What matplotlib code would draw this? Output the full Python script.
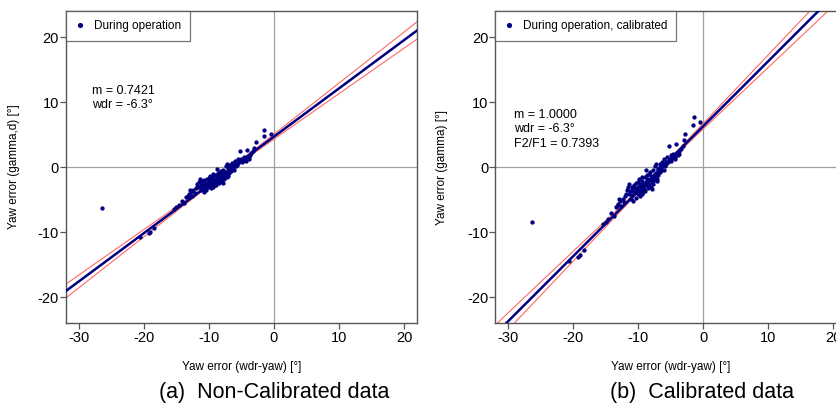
import matplotlib
matplotlib.use("Agg")
import matplotlib.pyplot as plt
import numpy as np

plt.rcParams['font.family'] = ['Liberation Sans', 'DejaVu Sans']
plt.rcParams['axes.unicode_minus'] = False

# ---- data ----
yaw_err_wdr = [
    -26.4, -20.6, -19.0, -18.4, -19.3, -15.4, -15.0, -14.6, -14.2, -13.8,
    -13.5, -13.1, -12.8, -12.6, -12.4, -12.2, -12.0, -11.8, -11.6, -11.5,
    -11.3, -11.2, -11.0, -10.9, -10.8, -10.6, -10.5, -10.4, -10.3, -10.2,
    -10.1, -10.0, -9.9, -9.8, -9.7, -9.6, -9.5, -9.4, -9.3, -9.2,
    -9.1, -9.0, -8.9, -8.8, -8.7, -8.6, -8.5, -8.4, -8.3, -8.2,
    -8.1, -8.0, -7.9, -7.8, -7.7, -7.6, -7.5, -7.4, -7.3, -7.2,
    -7.1, -7.0, -6.9, -6.8, -6.7, -6.6, -6.5, -6.4, -6.3, -6.2,
    -6.0, -5.9, -5.8, -5.6, -5.5, -5.3, -5.2, -5.0, -4.8, -4.6,
    -4.4, -4.2, -4.1, -3.9, -3.7, -3.5, -3.2, -3.0, -2.8, -1.6,
    -1.5, -0.5,
    -10.7, -10.4, -9.9, -9.6, -9.3, -9.0, -8.7, -8.4, -8.1, -7.8,
    -7.5, -7.2, -6.9, -6.6, -11.9, -11.4, -10.9, -8.8, -7.3, -9.7,
    -8.6, -7.9, -6.1, -5.7, -4.9, -4.3, -3.8, -12.9, -13.3, -10.0,
    -9.4, -8.3,
]
gamma_d = [
    -6.3, -10.7, -10.0, -9.4, -10.2, -6.4, -6.2, -5.9, -5.2, -5.6,
    -4.6, -4.2, -3.9, -4.4, -3.6, -4.0, -3.3, -2.6, -2.3, -3.1,
    -2.7, -3.6, -2.2, -3.2, -3.9, -2.9, -2.4, -3.5, -1.8, -2.7,
    -3.1, -2.3, -1.4, -2.9, -2.0, -2.6, -1.6, -3.0, -2.2, -1.9,
    -2.5, -1.2, -2.7, -1.7, -2.1, -0.9, -2.4, -1.5, -1.9, -0.6,
    -2.2, -1.3, -1.7, -0.4, -1.9, -1.0, -1.5, 0.1, -1.2, -0.7,
    -1.4, -0.2, -0.9, -0.5, 0.3, -0.6, -0.1, 0.6, -0.3, 0.2,
    0.9, 0.1, 0.5, 1.2, 0.6, 2.4, 0.9, 1.3, 1.0, 1.5,
    1.2, 2.6, 1.6, 1.3, 1.8, 2.1, 2.4, 3.0, 3.8, 4.8,
    5.7, 5.1,
    -2.0, -2.8, -2.4, -1.9, -2.8, -2.0, -1.4, -2.3, -1.0, -1.3,
    -0.8, -1.6, -0.2, 0.0, -3.0, -1.9, -2.6, -0.3, 0.4, -3.3,
    -1.8, -2.5, -0.4, 0.3, 0.7, 0.9, 1.5, -3.6, -4.4, -1.7,
    -1.1, -0.8,
]
gamma_cal = [
    -8.5, -14.5, -13.5, -12.7, -13.8, -8.7, -8.4, -8.0, -7.0, -7.6,
    -6.2, -5.7, -5.3, -6.0, -4.9, -5.4, -4.5, -3.5, -3.1, -4.2,
    -3.7, -4.9, -3.0, -4.3, -5.3, -3.9, -3.2, -4.7, -2.4, -3.7,
    -4.2, -3.1, -1.9, -3.9, -2.7, -3.5, -2.2, -4.1, -3.0, -2.6,
    -3.4, -1.6, -3.7, -2.3, -2.8, -1.2, -3.2, -2.0, -2.6, -0.8,
    -3.0, -1.8, -2.3, -0.5, -2.6, -1.4, -2.0, 0.1, -1.6, -0.9,
    -1.9, -0.3, -1.2, -0.7, 0.4, -0.8, -0.1, 0.8, -0.4, 0.3,
    1.2, 0.1, 0.7, 1.6, 0.8, 3.2, 1.2, 1.8, 1.4, 2.0,
    1.6, 3.5, 2.2, 1.8, 2.4, 2.8, 3.2, 4.1, 5.1, 6.5,
    7.7, 6.9,
    -2.7, -3.8, -3.2, -2.6, -3.8, -2.7, -1.9, -3.1, -1.4, -1.8,
    -1.1, -2.2, -0.3, 0.0, -4.1, -2.6, -3.5, -0.4, 0.5, -4.5,
    -2.4, -3.4, -0.5, 0.4, 0.9, 1.2, 2.0, -4.9, -6.0, -2.3,
    -1.5, -1.1,
]

slope_a, slope_b = 0.7421, 1.0000
wdr_offset = -6.3
f2_f1 = 0.7393
# confidence band shape (centre, min half-width, growth)
band_a = (-8.0, 0.15, 0.044)
band_b = (-7.0, 0.15, 0.056)

xticks = [-30, -20, -10, 0, 10, 20]
yticks = [-20, -10, 0, 10, 20]

NAVY = '#000080'
RED = '#ff6868'
SPINE = '#555555'

fig = plt.figure(figsize=(8.36, 4.08), dpi=100)
ax1 = fig.add_axes([0.0789, 0.2083, 0.4199, 0.7647])
ax2 = fig.add_axes([0.5925, 0.2083, 0.4199, 0.7647])


def draw(ax, yvals, slope, band, legend_label, ylabel, notes):
    ax.set_xlim(-32, 22)
    ax.set_ylim(-24, 24)
    ax.axhline(0, color='#a0a0a0', lw=0.9, zorder=1)
    ax.axvline(0, color='#a0a0a0', lw=0.9, zorder=1)
    xs = np.linspace(-32, 22, 200)
    fit = slope * (xs - wdr_offset)
    x0, h0, k = band
    hw = np.sqrt(h0 ** 2 + (k * (xs - x0)) ** 2)
    ax.plot(xs, fit + hw, color=RED, lw=0.8, zorder=2)
    ax.plot(xs, fit - hw, color=RED, lw=0.8, zorder=2)
    ax.plot(xs, fit, color=NAVY, lw=1.8, zorder=3)
    ax.plot(yaw_err_wdr, yvals, 'o', color=NAVY, ms=3.1, mew=0,
            zorder=4, label=legend_label)
    ax.set_xticks(xticks)
    ax.set_yticks(yticks)
    ax.tick_params(direction='out', length=4, width=0.9, color=SPINE,
                   labelsize=10.5, pad=2)
    ax.tick_params(axis='y', pad=1)
    for s in ax.spines.values():
        s.set_color(SPINE)
        s.set_linewidth(1.0)
    ax.set_xlabel('Yaw error (wdr-yaw) [°]', fontsize=8.5)
    ax.set_ylabel(ylabel, fontsize=8.5)
    ax.xaxis.set_label_coords(0.5, -0.122)
    leg = ax.legend(loc='upper left', borderaxespad=0, fontsize=8.5,
                    handlelength=0.8, handletextpad=0.8, markerscale=1.2,
                    fancybox=False, borderpad=0.75)
    leg.get_frame().set_edgecolor(SPINE)
    leg.get_frame().set_linewidth(0.9)
    for (tx, ty, t) in notes:
        ax.text(tx, ty, t, fontsize=9, va='center', ha='left')


draw(ax1, gamma_d, slope_a, band_a, 'During operation',
     'Yaw error (gamma,d) [°]',
     [(-28.0, 11.7, 'm = %.4f' % slope_a),
      (-28.0, 9.5, 'wdr = %.1f°' % wdr_offset)])
ax1.yaxis.set_label_coords(-0.131, 0.5)

draw(ax2, gamma_cal, slope_b, band_b, 'During operation, calibrated',
     'Yaw error (gamma) [°]',
     [(-29.1, 8.0, 'm = %.4f' % slope_b),
      (-29.1, 5.8, 'wdr = %.1f°' % wdr_offset),
      (-29.1, 3.5, 'F2/F1 = %.4f' % f2_f1)])
ax2.yaxis.set_label_coords(-0.135, 0.5)

fig.text(0.328, 0.037, '(a)  Non-Calibrated data', fontsize=15.5,
         ha='center', va='center')
fig.text(0.840, 0.037, '(b)  Calibrated data', fontsize=15.5,
         ha='center', va='center')

fig.savefig('out.png', dpi=100)
